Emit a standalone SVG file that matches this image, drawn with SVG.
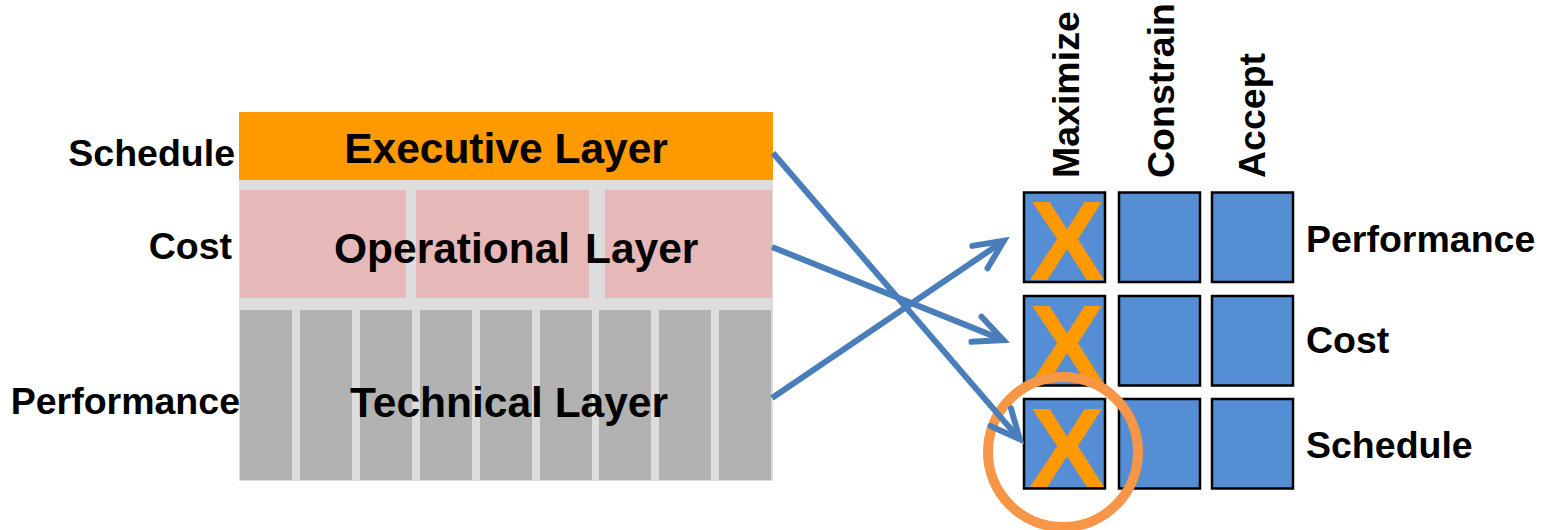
<svg xmlns="http://www.w3.org/2000/svg" width="1541" height="530" viewBox="0 0 1541 530">
<style>
.lbl{font-family:"Liberation Sans",Arial,sans-serif;font-weight:bold;font-size:37.5px;fill:#000}
.layer{font-family:"Liberation Sans",Arial,sans-serif;font-weight:bold;font-size:42.5px;fill:#000;text-anchor:middle}
.pink{fill:#E6B8B7}
.gray{fill:#B2B2B2}
.sq{fill:#558ED5;stroke:#000;stroke-width:2.5}
.x{font-family:"Liberation Sans",Arial,sans-serif;font-weight:bold;font-size:114px;fill:#FF9900;text-anchor:middle}
.conn{stroke:#4A7EBB;stroke-width:6;fill:none;marker-end:url(#arr)}
</style>
<defs>
<marker id="arr" markerUnits="userSpaceOnUse" orient="auto" refX="0" refY="0" viewBox="-40 -22 50 44" markerWidth="50" markerHeight="44">
<path d="M-29,-13.5 L0,0 L-29,13.5" fill="none" stroke="#4A7EBB" stroke-width="6" stroke-linecap="round" stroke-linejoin="miter"/>
</marker>
</defs>
<rect width="1541" height="530" fill="#fff"/>

<g id="layers">
<rect x="239" y="180" width="534" height="301" fill="#DDDDDD"/>
<g id="executive">
<rect x="239" y="112" width="534" height="68" fill="#FF9900"/>
<text class="layer" x="506" y="163">Executive Layer</text>
</g>
<g id="operational">
<rect class="pink" x="240" y="190" width="166" height="108"/>
<rect class="pink" x="416" y="190" width="173" height="108"/>
<rect class="pink" x="605" y="190" width="167" height="108"/>
<text class="layer" x="334" y="263" style="text-anchor:start">Operational <tspan x="585">Layer</tspan></text>
</g>
<g id="technical">
<rect class="gray" x="240" y="310" width="52" height="170"/>
<rect class="gray" x="300" y="310" width="52" height="170"/>
<rect class="gray" x="360" y="310" width="52" height="170"/>
<rect class="gray" x="420" y="310" width="52" height="170"/>
<rect class="gray" x="480" y="310" width="52" height="170"/>
<rect class="gray" x="540" y="310" width="52" height="170"/>
<rect class="gray" x="599" y="310" width="52" height="170"/>
<rect class="gray" x="659" y="310" width="52" height="170"/>
<rect class="gray" x="719" y="310" width="52" height="170"/>
<text class="layer" x="509" y="417">Technical Layer</text>
</g>
</g>

<g id="left-labels">
<text class="lbl" x="235" y="166" text-anchor="end">Schedule</text>
<text class="lbl" x="232" y="259" text-anchor="end">Cost</text>
<text class="lbl" x="240" y="414" text-anchor="end">Performance</text>
</g>

<g id="grid">
<g id="row-performance">
<rect class="sq" x="1024" y="192.5" width="81" height="89.5"/>
<rect class="sq" x="1119" y="192.5" width="81" height="89.5"/>
<rect class="sq" x="1212" y="192.5" width="81" height="89.5"/>
<text class="x" x="1067" y="280">X</text>
</g>
<g id="row-cost">
<rect class="sq" x="1024" y="296" width="81" height="89.5"/>
<rect class="sq" x="1119" y="296" width="81" height="89.5"/>
<rect class="sq" x="1212" y="296" width="81" height="89.5"/>
<text class="x" x="1067" y="384">X</text>
</g>
<g id="row-schedule">
<rect class="sq" x="1024" y="399" width="81" height="89.5"/>
<rect class="sq" x="1119" y="399" width="81" height="89.5"/>
<rect class="sq" x="1212" y="399" width="81" height="89.5"/>
<text class="x" x="1067" y="487">X</text>
</g>
</g>

<g id="column-labels">
<text class="lbl" transform="translate(1079,178) rotate(-90)">Maximize</text>
<text class="lbl" transform="translate(1174,178) rotate(-90)">Constrain</text>
<text class="lbl" transform="translate(1265,178) rotate(-90)">Accept</text>
</g>

<g id="right-labels">
<text class="lbl" x="1306" y="252">Performance</text>
<text class="lbl" x="1306" y="353">Cost</text>
<text class="lbl" x="1306" y="458">Schedule</text>
</g>

<g id="highlight">
<circle cx="1063" cy="452" r="75" fill="none" stroke="#F79646" stroke-width="10"/>
</g>

<g id="connectors">
<line class="conn" x1="773" y1="153" x2="1019.7" y2="439.2"/>
<line class="conn" x1="772" y1="247" x2="1003.4" y2="340.1"/>
<line class="conn" x1="772" y1="398" x2="1003.9" y2="240.8"/>
</g>
</svg>
